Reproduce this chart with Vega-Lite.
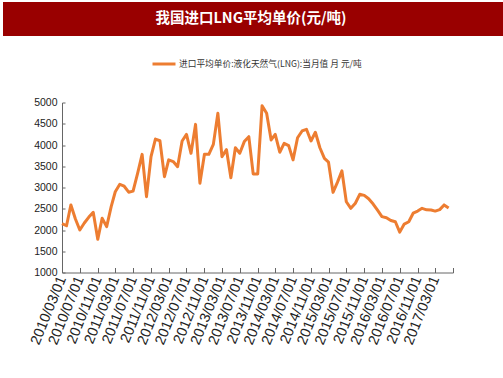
{
  "$schema": "https://vega.github.io/schema/vega-lite/v6.json",
  "padding": {"left": 3, "top": 2, "right": 0, "bottom": 4},
  "background": "white",
  "bounds": "flush",
  "center": true,
  "spacing": 66.5,
  "config": {
    "view": {"stroke": null}
  },
  "vconcat": [
    {
      "width": 509,
      "height": 34,
      "view": {"fill": "#990000", "stroke": null},
      "data": {"values": [{"title": "我国进口LNG平均单价(元/吨)"}]},
      "mark": {"type": "text", "color": "white", "fontSize": 14.5, "fontWeight": "bold", "font": "Noto Sans CJK SC", "align": "center", "baseline": "middle", "dx": -6.5},
      "encoding": {"text": {"field": "title", "type": "nominal"}}
    },
    {
      "width": 391,
      "height": 170,
      "view": {"stroke": null},
      "data": {"values": [
        {"date": "2010/03/01", "price": 2150},
        {"date": "2010/04/01", "price": 2100},
        {"date": "2010/05/01", "price": 2590},
        {"date": "2010/06/01", "price": 2260},
        {"date": "2010/07/01", "price": 2000},
        {"date": "2010/08/01", "price": 2165},
        {"date": "2010/09/01", "price": 2305},
        {"date": "2010/10/01", "price": 2415},
        {"date": "2010/11/01", "price": 1780},
        {"date": "2010/12/01", "price": 2275},
        {"date": "2011/01/01", "price": 2080},
        {"date": "2011/02/01", "price": 2550},
        {"date": "2011/03/01", "price": 2900},
        {"date": "2011/04/01", "price": 3075},
        {"date": "2011/05/01", "price": 3030},
        {"date": "2011/06/01", "price": 2890},
        {"date": "2011/07/01", "price": 2915},
        {"date": "2011/08/01", "price": 3330},
        {"date": "2011/09/01", "price": 3780},
        {"date": "2011/10/01", "price": 2785},
        {"date": "2011/11/01", "price": 3725},
        {"date": "2011/12/01", "price": 4140},
        {"date": "2012/01/01", "price": 4100},
        {"date": "2012/02/01", "price": 3255},
        {"date": "2012/03/01", "price": 3650},
        {"date": "2012/04/01", "price": 3610},
        {"date": "2012/05/01", "price": 3490},
        {"date": "2012/06/01", "price": 4095},
        {"date": "2012/07/01", "price": 4250},
        {"date": "2012/08/01", "price": 3805},
        {"date": "2012/09/01", "price": 4485},
        {"date": "2012/10/01", "price": 3100},
        {"date": "2012/11/01", "price": 3780},
        {"date": "2012/12/01", "price": 3780},
        {"date": "2013/01/01", "price": 4015},
        {"date": "2013/02/01", "price": 4745},
        {"date": "2013/03/01", "price": 3725},
        {"date": "2013/04/01", "price": 3890},
        {"date": "2013/05/01", "price": 3230},
        {"date": "2013/06/01", "price": 3935},
        {"date": "2013/07/01", "price": 3805},
        {"date": "2013/08/01", "price": 4080},
        {"date": "2013/09/01", "price": 4195},
        {"date": "2013/10/01", "price": 3320},
        {"date": "2013/11/01", "price": 3320},
        {"date": "2013/12/01", "price": 4925},
        {"date": "2014/01/01", "price": 4745},
        {"date": "2014/02/01", "price": 4120},
        {"date": "2014/03/01", "price": 4250},
        {"date": "2014/04/01", "price": 3830},
        {"date": "2014/05/01", "price": 4040},
        {"date": "2014/06/01", "price": 3985},
        {"date": "2014/07/01", "price": 3650},
        {"date": "2014/08/01", "price": 4170},
        {"date": "2014/09/01", "price": 4330},
        {"date": "2014/10/01", "price": 4370},
        {"date": "2014/11/01", "price": 4095},
        {"date": "2014/12/01", "price": 4300},
        {"date": "2015/01/01", "price": 3935},
        {"date": "2015/02/01", "price": 3685},
        {"date": "2015/03/01", "price": 3595},
        {"date": "2015/04/01", "price": 2885},
        {"date": "2015/05/01", "price": 3120},
        {"date": "2015/06/01", "price": 3390},
        {"date": "2015/07/01", "price": 2665},
        {"date": "2015/08/01", "price": 2510},
        {"date": "2015/09/01", "price": 2630},
        {"date": "2015/10/01", "price": 2840},
        {"date": "2015/11/01", "price": 2815},
        {"date": "2015/12/01", "price": 2735},
        {"date": "2016/01/01", "price": 2610},
        {"date": "2016/02/01", "price": 2460},
        {"date": "2016/03/01", "price": 2315},
        {"date": "2016/04/01", "price": 2290},
        {"date": "2016/05/01", "price": 2225},
        {"date": "2016/06/01", "price": 2195},
        {"date": "2016/07/01", "price": 1950},
        {"date": "2016/08/01", "price": 2140},
        {"date": "2016/09/01", "price": 2195},
        {"date": "2016/10/01", "price": 2395},
        {"date": "2016/11/01", "price": 2445},
        {"date": "2016/12/01", "price": 2510},
        {"date": "2017/01/01", "price": 2475},
        {"date": "2017/02/01", "price": 2470},
        {"date": "2017/03/01", "price": 2445},
        {"date": "2017/04/01", "price": 2480},
        {"date": "2017/05/01", "price": 2590},
        {"date": "2017/06/01", "price": 2520}
      ]},
      "mark": {"type": "line", "strokeWidth": 3, "strokeJoin": "round"},
      "encoding": {
        "x": {
          "field": "date", "type": "temporal",
          "scale": {"domain": [{"year": 2010, "month": 3, "date": 1}, {"year": 2017, "month": 7, "date": 1}]},
          "axis": {
            "title": null,
            "values": [
              {"year": 2010, "month": 3, "date": 1}, {"year": 2010, "month": 7, "date": 1}, {"year": 2010, "month": 11, "date": 1},
              {"year": 2011, "month": 3, "date": 1}, {"year": 2011, "month": 7, "date": 1}, {"year": 2011, "month": 11, "date": 1},
              {"year": 2012, "month": 3, "date": 1}, {"year": 2012, "month": 7, "date": 1}, {"year": 2012, "month": 11, "date": 1},
              {"year": 2013, "month": 3, "date": 1}, {"year": 2013, "month": 7, "date": 1}, {"year": 2013, "month": 11, "date": 1},
              {"year": 2014, "month": 3, "date": 1}, {"year": 2014, "month": 7, "date": 1}, {"year": 2014, "month": 11, "date": 1},
              {"year": 2015, "month": 3, "date": 1}, {"year": 2015, "month": 7, "date": 1}, {"year": 2015, "month": 11, "date": 1},
              {"year": 2016, "month": 3, "date": 1}, {"year": 2016, "month": 7, "date": 1}, {"year": 2016, "month": 11, "date": 1},
              {"year": 2017, "month": 3, "date": 1}, {"year": 2017, "month": 7, "date": 1}
            ],
            "format": "%Y/%m/%d",
            "labelExpr": "datum.value >= datetime(2017, 5, 1) ? '' : datum.label",
            "labelAngle": -68,
            "labelAlign": "right",
            "labelBaseline": "middle",
            "labelPadding": 9,
            "labelFont": "Liberation Sans",
            "labelFontSize": 14.5,
            "labelColor": "#222222",
            "labelOverlap": false,
            "labelFlush": false,
            "tickSize": -5,
            "tickColor": "#666666",
            "domainColor": "#666666",
            "grid": false
          }
        },
        "y": {
          "field": "price", "type": "quantitative",
          "scale": {"domain": [1000, 5000], "nice": false, "zero": false},
          "axis": {
            "title": null,
            "values": [1000, 1500, 2000, 2500, 3000, 3500, 4000, 4500, 5000],
            "format": "d",
            "labelFont": "Liberation Sans",
            "labelFontSize": 10.5,
            "labelColor": "#222222",
            "labelPadding": 8,
            "tickSize": -3,
            "tickColor": "#666666",
            "domainColor": "#666666",
            "grid": false
          }
        },
        "color": {
          "datum": "进口平均单价:液化天然气(LNG):当月值 月 元/吨",
          "type": "nominal",
          "scale": {"range": ["#ED7D31"]},
          "legend": {
            "title": null,
            "orient": "none",
            "legendX": 148,
            "legendY": 49,
            "symbolType": "stroke",
            "symbolSize": 529,
            "symbolStrokeWidth": 3,
            "labelFont": "Noto Sans CJK SC",
            "labelFontSize": 8.7,
            "labelColor": "#333333",
            "labelOffset": 2,
            "labelLimit": 400
          }
        }
      }
    }
  ]
}
